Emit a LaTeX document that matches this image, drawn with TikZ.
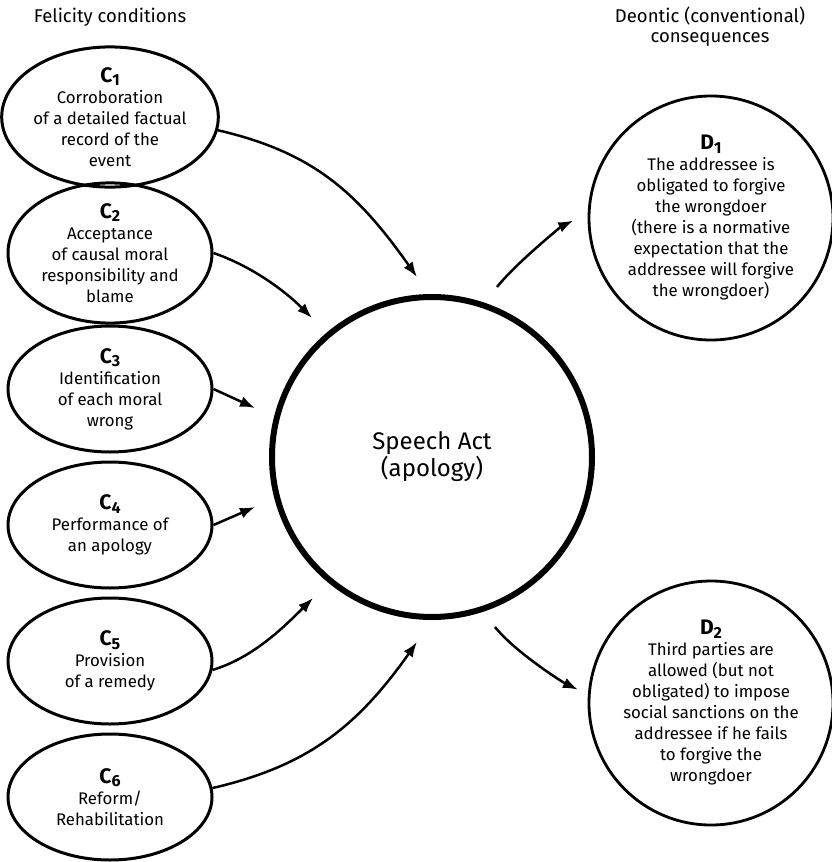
\documentclass[tikz,border=0pt]{standalone}
\usepackage{fontspec}
\setmainfont{Fira Sans}
\usetikzlibrary{positioning,shapes,arrows.meta}
\newcommand\hd[2]{{\fontsize{21}{23}\selectfont\bfseries #1\raisebox{-.3ex}{\fontsize{16}{16}\selectfont #2}}}

\begin{document}
\begin{tikzpicture}[x=1pt,y=-1pt,font=\fontsize{16.8}{21}\selectfont,
  cond/.style={draw,line width=3pt,ellipse,minimum width=204pt,
    minimum height=126pt,inner sep=0pt,align=center},
  cons/.style={draw,line width=2.8pt,circle,minimum size=244pt,
    inner sep=0pt,align=center},
  link/.style={line width=2.5pt,-{Latex[length=15pt,width=11pt]}}]
\useasboundingbox (0,0) rectangle (832,862);
\node[font=\fontsize{18.5}{21}\selectfont] (felicity) at (110,17) {Felicity conditions};
\node[align=center,font=\fontsize{18.5}{20}\selectfont] (deontic) at (710,27) {Deontic (conventional)\\consequences};
\node[cond] (c1) at (110,117) {\hd{C}{1}\\Corroboration\\of a detailed factual\\record of the\\event};
\node[cond] (c2) at (110,253) {\hd{C}{2}\\Acceptance\\of causal moral\\responsibility and\\blame};
\node[cond] (c3) at (110,389) {\hd{C}{3}\\Identification\\of each moral\\wrong};
\node[cond] (c4) at (110,525) {\hd{C}{4}\\Performance of\\an apology};
\node[cond] (c5) at (110,661) {\hd{C}{5}\\Provision\\of a remedy};
\node[cond] (c6) at (110,797) {\hd{C}{6}\\Reform/\\Rehabilitation};
\node[draw,circle,line width=6pt,minimum size=320pt,align=center,
  font=\fontsize{24}{27}\selectfont] (act) at (432,457) {Speech Act\\(apology)};
\node[cons] (d1) at (711,218) {\hd{D}{1}\\The addressee is\\obligated to forgive\\the wrongdoer\\(there is a normative\\expectation that the\\addressee will forgive\\the wrongdoer)};
\node[cons] (d2) at (711,703) {\hd{D}{2}\\Third parties are\\allowed (but not\\obligated) to impose\\social sanctions on the\\addressee if he fails\\to forgive the\\wrongdoer};
\coordinate (t1) at (417,277);
\coordinate (t2) at (312,318);
\coordinate (t3) at (255,408);
\coordinate (t4) at (255,507);
\coordinate (t5) at (313,598);
\coordinate (t6) at (417,642);
\coordinate (s1) at (497,287);
\coordinate (s2) at (495,627);
\draw[link] (c1.-7) .. controls +(95,22) and +(-60,-85) .. (t1);
\draw[link] (c2.east) .. controls +(35,12) and +(-30,-30) .. (t2);
\draw[link] (c3.east) -- (t3);
\draw[link] (c4.east) -- (t4);
\draw[link] (c5.-5) .. controls +(40,-12) and +(-30,30) .. (t5);
\draw[link] (c6.5) .. controls +(95,-22) and +(-60,85) .. (t6);
\draw[link,shorten >=16pt] (s1) .. controls +(20,-25) and +(-25,12) .. (d1.178);
\draw[link,shorten >=11pt] (s2) .. controls +(20,25) and +(-25,-12) .. (d2.176);
\end{tikzpicture}
\end{document}
